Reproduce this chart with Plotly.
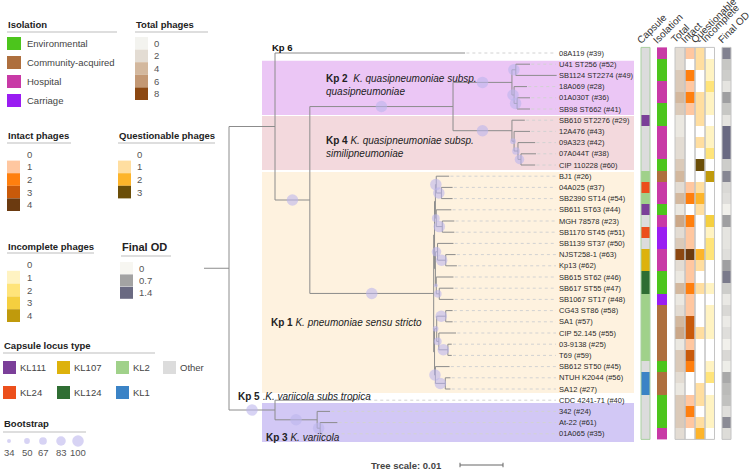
import plotly.graph_objects as go

# ---------------- data ----------------
leaves = ["08A119 (#39)", "U41 ST256 (#52)", "SB1124 ST2274 (#49)", "18A069 (#28)", "01A030T (#36)",
          "SB98 ST662 (#41)", "SB610 ST2276 (#29)", "12A476 (#43)", "09A323 (#42)", "07A044T (#38)",
          "CIP 110228 (#60)", "BJ1 (#26)", "04A025 (#37)", "SB2390 ST14 (#54)", "SB611 ST63 (#44)",
          "MGH 78578 (#23)", "SB1170 ST45 (#51)", "SB1139 ST37 (#50)", "NJST258-1 (#63)", "Kp13 (#62)",
          "SB615 ST62 (#46)", "SB617 ST55 (#47)", "SB1067 ST17 (#48)", "CG43 ST86 (#58)", "SA1 (#57)",
          "CIP 52.145 (#55)", "03-9138 (#25)", "T69 (#59)", "SB612 ST50 (#45)", "NTUH K2044 (#56)",
          "SA12 (#27)", "CDC 4241-71 (#40)", "342 (#24)", "At-22 (#61)", "01A065 (#35)"]

capsule = ["Other", "Other", "Other", "Other", "Other", "Other", "KL111", "Other", "Other", "Other", "Other",
           "KL2", "KL24", "KL2", "KL111", "Other", "KL24", "Other", "KL107", "KL107", "KL124", "KL124",
           "KL2", "KL2", "KL2", "KL2", "KL2", "KL2", "Other", "KL1", "KL1", "Other", "Other", "Other", "Other"]

isolation = ["Hospital", "Environmental", "Environmental", "Hospital", "Hospital", "Environmental",
             "Environmental", "Hospital", "Hospital", "Hospital", "Environmental",
             "Community-acquired", "Hospital", "Hospital", "Environmental", "Hospital", "Carriage",
             "Carriage", "Hospital", "Hospital", "Environmental", "Environmental",
             "Carriage", "Community-acquired", "Community-acquired", "Community-acquired",
             "Community-acquired", "Community-acquired", "Environmental", "Community-acquired",
             "Community-acquired", "Environmental", "Environmental", "Environmental", "Hospital"]

total_phages = [2, 2, 3, 3, 4, 3, 1, 1, 2, 2, 3,
                4, 2, 4, 1, 5, 2, 3, 8, 2, 1, 4,
                1, 2, 4, 5, 1, 3, 3, 2, 1, 3, 3, 3, 2]
intact_phages = [1, 0, 2, 1, 2, 1, 0, 0, 0, 0, 0,
                 0, 1, 2, 0, 2, 1, 1, 4, 1, 1, 2,
                 1, 1, 3, 3, 1, 3, 2, 0, 0, 1, 2, 1, 0]
questionable_phages = [1, 1, 0, 0, 1, 1, 1, 0, 1, 0, 3,
                       0, 1, 2, 1, 0, 0, 0, 2, 1, 0, 1,
                       0, 0, 0, 1, 0, 0, 0, 0, 1, 1, 0, 1, 2]
incomplete_phages = [0, 1, 1, 2, 1, 1, 0, 1, 1, 2, 0,
                     4, 0, 0, 0, 3, 1, 2, 2, 0, 0, 1,
                     0, 1, 1, 1, 0, 0, 1, 2, 0, 1, 1, 1, 0]
final_od = [1.1, 0.4, 0.35, 0.15, 0.75, 0.4, 0.15, 1.4, 1.4, 1.4, 0.35,
            1.05, 0.25, 0.2, 0.05, 0.75, 0.15, 0.15, 0.2, 0.75, 1.2, 0.35,
            0.12, 0.25, 0.1, 0.2, 0.05, 0.25, 0.08, 0.65, 0.5, 0.45, 0.2, 1.0, 0.22]

isolation_types = ["Environmental", "Community-acquired", "Hospital", "Carriage"]
isolation_colors = ["#4CC51C", "#AE6F3E", "#C83AA6", "#9A1DF2"]
capsule_types = ["KL111", "KL107", "KL2", "Other", "KL24", "KL124", "KL1"]
capsule_colors = ["#7B3F99", "#DDB20C", "#A0D18A", "#DCDCDC", "#EC4F1C", "#2F6E33", "#3B83C6"]

total_ticks = [0, 2, 4, 6, 8]
intact_ticks = [0, 1, 2, 3, 4]
questionable_ticks = [0, 1, 2, 3]
incomplete_ticks = [0, 1, 2, 3, 4]
od_ticks = [0, 0.7, 1.4]
bootstrap_ticks = [34, 50, 67, 83, 100]


# tree: internal node = N(branch length, bootstrap, children...), leaf = L(label, branch length)
def N(bl, bs, *children):
    return {"bl": bl, "bs": bs, "ch": list(children)}


def L(name, bl):
    return {"bl": bl, "leaf": name}


tree = N(0, None,
         N(0.0107, None,
           L("08A119 (#39)", 0.0442),
           N(0.0081, 100,
             N(0.0333, 100,
               N(0.0137, 100,
                 N(0.0009, 100, L("U41 ST256 (#52)", 0.0033), L("SB1124 ST2274 (#49)", 0.0095)),
                 N(0.0005, 100, L("18A069 (#28)", 0.0030),
                   N(0.0007, 100, L("01A030T (#36)", 0.0030), L("SB98 ST662 (#41)", 0.0030)))),
               N(0.0137, 100,
                 L("SB610 ST2276 (#29)", 0.0030),
                 N(0.0005, 50, L("12A476 (#43)", 0.0037),
                   N(0.0009, 67, L("09A323 (#42)", 0.0040),
                     N(0.0007, 83, L("07A044T (#38)", 0.0035), L("CIP 110228 (#60)", 0.0033)))))),
             N(0.0288, 100,
               N(0.0002, None,
                 N(0.0002, None,
                   N(0.0002, 100, L("BJ1 (#26)", 0.0030),
                     N(0.0012, 100, L("04A025 (#37)", 0.0026), L("SB2390 ST14 (#54)", 0.0026))),
                   N(0.0002, 67, L("SB611 ST63 (#44)", 0.0035),
                     N(0.0014, 100, L("MGH 78578 (#23)", 0.0028), L("SB1170 ST45 (#51)", 0.0028)))),
                 N(0.0002, None,
                   N(0.0005, 83, L("SB1139 ST37 (#50)", 0.0037),
                     N(0.0019, 100, L("NJST258-1 (#63)", 0.0023), L("Kp13 (#62)", 0.0026))),
                   N(0.0002, 34, L("SB615 ST62 (#46)", 0.0040),
                     N(0.0007, 67, L("SB617 ST55 (#47)", 0.0033), L("SB1067 ST17 (#48)", 0.0033))))),
               N(0.0002, None,
                 N(0.0005, 50,
                   N(0.0021, 100, L("CG43 ST86 (#58)", 0.0016), L("SA1 (#57)", 0.0016)),
                   N(0.0005, 67, L("CIP 52.145 (#55)", 0.0040),
                     N(0.0021, 100, L("03-9138 (#25)", 0.0009), L("T69 (#59)", 0.0009)))),
                 N(0.0002, 100, L("SB612 ST50 (#45)", 0.0033),
                   N(0.0023, 100, L("NTUH K2044 (#56)", 0.0012), L("SA12 (#27)", 0.0012))))))),
         N(0.0107, 100,
           L("CDC 4241-71 (#40)", 0.0186),
           N(0.0098, 100, L("342 (#24)", 0.0030),
             N(0.0007, 100, L("At-22 (#61)", 0.0040), L("01A065 (#35)", 0.0005)))))

# ---------------- geometry of the page ----------------
W, H = 755, 474
ROOT_PX = 229          # pixel of tree root
PX_PER_UNIT = 4300     # tree scale: 0.01 -> 43 px
ROW0_PX, ROW_PX = 53, 11.2
LABEL_PX = 558
FONT = "Liberation Sans, Arial, Helvetica, sans-serif"


def layout_tree(node, x0):
    node["x"] = x0 + node["bl"]
    if "leaf" in node:
        node["y"] = leaves.index(node["leaf"])
    else:
        for c in node["ch"]:
            layout_tree(c, node["x"])
        node["y"] = (node["ch"][0]["y"] + node["ch"][-1]["y"]) / 2


layout_tree(tree, 0.0)

lx, ly = [], []
bx, by, bs_sizes = [], [], []
gx, gy = [], []
label_x_units = (LABEL_PX - 2 - ROOT_PX) / PX_PER_UNIT


def walk(node, parent):
    if parent is not None:
        lx.extend([parent["x"], node["x"], None]); ly.extend([node["y"], node["y"], None])
        if node.get("bs"):
            bx.append((parent["x"] + node["x"]) / 2); by.append(node["y"]); bs_sizes.append(node["bs"])
    if "leaf" in node:
        if node["x"] < label_x_units - 0.0003:
            gx.extend([node["x"] + 0.0003, label_x_units, None]); gy.extend([node["y"], node["y"], None])
    else:
        lx.extend([node["x"], node["x"], None]); ly.extend([node["ch"][0]["y"], node["ch"][-1]["y"], None])
        for c in node["ch"]:
            walk(c, node)


walk(tree, None)
# root stem
lx.extend([-25 / PX_PER_UNIT, 0, None]); ly.extend([tree["y"], tree["y"], None])

fig = go.Figure()

BOOT_COLOR = "#BDB6EC"
BOOT_OPACITY = 0.6

# leaf guide lines
fig.add_trace(go.Scatter(x=gx, y=gy, mode="lines", line=dict(color="#D2D2D2", width=1, dash="3px,3px"),
                         hoverinfo="skip", showlegend=False))
# branches
fig.add_trace(go.Scatter(x=lx, y=ly, mode="lines", line=dict(color="#8C8C8C", width=1),
                         hoverinfo="skip", showlegend=False))
# bootstrap circles
fig.add_trace(go.Scatter(x=bx, y=by, mode="markers",
                         marker=dict(size=[0.115 * b for b in bs_sizes], color=BOOT_COLOR, opacity=BOOT_OPACITY,
                                     line=dict(width=0)),
                         hoverinfo="skip", showlegend=False))

# tree scale bar (0.01 units)
sb_x0 = (460 - ROOT_PX) / PX_PER_UNIT
sb_y = (465 - ROW0_PX) / ROW_PX
fig.add_trace(go.Scatter(x=[sb_x0, sb_x0 + 0.01, None, sb_x0, sb_x0, None, sb_x0 + 0.01, sb_x0 + 0.01],
                         y=[sb_y, sb_y, None, sb_y - 0.2, sb_y + 0.2, None, sb_y - 0.2, sb_y + 0.2],
                         mode="lines", line=dict(color="#666666", width=1), hoverinfo="skip", showlegend=False))

# ---------------- heatmap columns ----------------
rows = list(range(len(leaves)))


def cat_scale(colors):
    n = len(colors)
    cs = []
    for i, c in enumerate(colors):
        cs += [[i / n, c], [(i + 1) / n, c]]
    return cs


cols = {
    "Capsule": (641, 650), "Isolation": (657, 667), "Total": (675, 685), "Intact": (685, 695),
    "Questionable": (695, 705), "Incomplete": (705, 714.5), "Final OD": (722, 731),
}


def add_col(name, z, colorscale, zmin, zmax):
    x0, x1 = cols[name]
    fig.add_trace(go.Heatmap(z=[[v] for v in z], x=[x0, x1], y=rows, colorscale=colorscale,
                             zmin=zmin, zmax=zmax, showscale=False, hoverinfo="skip",
                             xaxis="x2", yaxis="y"))


add_col("Capsule", [capsule_types.index(c) for c in capsule], cat_scale(capsule_colors),
        -0.5, len(capsule_types) - 0.5)
add_col("Isolation", [isolation_types.index(c) for c in isolation], cat_scale(isolation_colors),
        -0.5, len(isolation_types) - 0.5)
add_col("Total", total_phages,
        [[0, "#F3F3EF"], [0.25, "#E3DCD3"], [0.5, "#D3B89E"], [0.75, "#C39874"], [1, "#8C4812"]], 0, 8)
add_col("Intact", intact_phages,
        [[0, "#FFFFFF"], [0.25, "#FFC7A0"], [0.5, "#FF7F0E"], [0.75, "#C95A0A"], [1, "#6B3A10"]], 0, 4)
add_col("Questionable", questionable_phages,
        [[0, "#FFFFFF"], [1 / 3, "#FFDEA0"], [2 / 3, "#FDB42A"], [1, "#6B4E08"]], 0, 3)
add_col("Incomplete", incomplete_phages,
        [[0, "#FFFFFF"], [0.25, "#FFF3C2"], [0.5, "#FFE47A"], [0.75, "#F5CF3F"], [1, "#C09A0C"]], 0, 4)
add_col("Final OD", final_od, [[0, "#F7F6F1"], [0.5, "#A3A3A3"], [1, "#6A6A82"]], 0, 1.4)

shapes = []
annotations = []

# clade background bands (pixel x, row y)
bands = [(0.69, 5.54, "#EBC6F5"), (5.62, 10.45, "#F3D9DD"), (10.63, 30.36, "#FEF2DF"), (31.25, 34.73, "#D2C8F5")]
for y0, y1, c in bands:
    shapes.append(dict(type="rect", xref="x2", yref="y", x0=262, x1=634, y0=y0, y1=y1,
                       fillcolor=c, line=dict(width=0), layer="below"))

# column outlines
for name, (x0, x1) in cols.items():
    if name == "Isolation":
        continue
    shapes.append(dict(type="rect", xref="x2", yref="y", x0=x0, x1=x1, y0=-0.5, y1=len(leaves) - 0.5,
                       line=dict(color="#A9CFA0" if name == "Capsule" else "#C4C4C4", width=1),
                       fillcolor="rgba(0,0,0,0)", layer="above"))


def txt(x, y, s, size=9.5, color="#333333", xanchor="left", yanchor="middle", xref="x2", yref="y2",
        angle=0, align="left"):
    annotations.append(dict(x=x, y=y, text=s, xref=xref, yref=yref, showarrow=False, xanchor=xanchor,
                            yanchor=yanchor, textangle=angle, align=align,
                            font=dict(family=FONT, size=size, color=color)))


# leaf labels
for i, name in enumerate(leaves):
    txt(LABEL_PX - 1, i, name, size=7.5, color="#2A2A2A", yref="y")

# column headers
for name, (x0, x1) in cols.items():
    txt(x0 - 9, 48, name, size=10, color="#333333", yanchor="bottom", angle=-45)

# clade labels
txt(270, 47, "<b>Kp 6</b>", size=9.5, color="#111111")
txt(324, 85, "<b>Kp 2</b>&nbsp; <i>K. quasipneumoniae subsp.</i><br><i>quasipneumoniae</i>", size=10,
    color="#222222")
txt(324, 146.5, "<b>Kp 4</b> <i>K. quasipneumoniae subsp.</i><br><i>similipneumoniae</i>", size=10,
    color="#222222")
txt(269, 322, "<b>Kp 1</b> <i>K. pneumoniae sensu stricto</i>", size=10, color="#222222")
txt(236, 396, "<b>Kp 5</b> .<i>K. variicola subs tropica</i>", size=10, color="#222222")
txt(264, 437, "<b>Kp 3</b> <i>K. variicola</i>", size=10, color="#222222")
txt(369, 465, "<b>Tree scale: 0.01</b>", size=9.5, color="#444444")


# ---------------- legends ----------------
def legend_title(x, y, s, x_end, size=9.5, uy=None):
    txt(x - 1, y, "<b>" + s + "</b>", size=size, color="#222222")
    shapes.append(dict(type="line", xref="x2", yref="y2", x0=x, x1=x_end, y0=uy, y1=uy,
                       line=dict(color="#BDBDBD", width=1)))


def swatch(x0, y0, x1, y1, c):
    shapes.append(dict(type="rect", xref="x2", yref="y2", x0=x0, x1=x1, y0=y0, y1=y1, fillcolor=c,
                       line=dict(width=0)))


# Isolation
legend_title(7, 24, "Isolation", 117, uy=32)
for k, (t, c) in enumerate(zip(isolation_types, isolation_colors)):
    y0 = 37 + 19 * k
    swatch(7, y0, 21, y0 + 13, c)
    txt(25, y0 + 6.5, t, size=9.5, color="#444444")

# Total phages
legend_title(135, 24, "Total phages", 208, uy=32)
total_cols = ["#F3F3EF", "#E3DCD3", "#D3B89E", "#C39874", "#8C4812"]
for k, (t, c) in enumerate(zip(total_ticks, total_cols)):
    y0 = 37 + 12.6 * k
    swatch(135, y0, 148, y0 + 12.6, c)
    txt(152, y0 + 6.3, str(t), size=9.5, color="#555555")

# Intact phages
legend_title(7, 135, "Intact phages", 71, uy=143)
intact_cols = ["#FFFFFF", "#FFC7A0", "#FF7F0E", "#C95A0A", "#6B3A10"]
for k, (t, c) in enumerate(zip(intact_ticks, intact_cols)):
    y0 = 148 + 12.6 * k
    if k > 0:
        swatch(7, y0, 20, y0 + 12.6, c)
    txt(25, y0 + 6.3, str(t), size=9.5, color="#555555")

# Questionable phages
legend_title(118, 135, "Questionable phages", 215, uy=143)
quest_cols = ["#FFFFFF", "#FFDEA0", "#FDB42A", "#6B4E08"]
for k, (t, c) in enumerate(zip(questionable_ticks, quest_cols)):
    y0 = 148 + 12.6 * k
    if k > 0:
        swatch(118, y0, 131, y0 + 12.6, c)
    txt(135, y0 + 6.3, str(t), size=9.5, color="#555555")

# Incomplete phages
legend_title(7, 246, "Incomplete phages", 94, uy=253)
incomp_cols = ["#FFFFFF", "#FFF3C2", "#FFE47A", "#F5CF3F", "#C09A0C"]
for k, (t, c) in enumerate(zip(incomplete_ticks, incomp_cols)):
    y0 = 258 + 12.8 * k
    if k > 0:
        swatch(7, y0, 20, y0 + 12.8, c)
    txt(25, y0 + 6.4, str(t), size=9.5, color="#555555")

# Final OD
legend_title(121, 247, "Final OD", 171, size=11, uy=256)
od_cols = ["#F7F6F1", "#A3A3A3", "#6A6A82"]
for k, (t, c) in enumerate(zip(od_ticks, od_cols)):
    y0 = 262 + 12.4 * k
    swatch(120, y0, 133, y0 + 12, c)
    txt(137, y0 + 6, str(t), size=9.5, color="#555555")

# Capsule locus type
legend_title(3, 345, "Capsule locus type", 155, uy=353)
cap_pos = [(3, 361), (57, 361), (116, 361), (163, 361), (3, 386), (57, 386), (116, 386)]
for (x0, y0), t, c in zip(cap_pos, capsule_types, capsule_colors):
    swatch(x0, y0, x0 + 13, y0 + 13, c)
    txt(x0 + 15, y0 + 6.5, t, size=9.5, color="#444444")

# Bootstrap
legend_title(3, 423, "Bootstrap", 86, uy=432)
bx_leg = [9, 27, 43, 61, 78]
fig.add_trace(go.Scatter(x=bx_leg, y=[441] * len(bx_leg), mode="markers", xaxis="x2", yaxis="y2",
                         marker=dict(size=[0.115 * b for b in bootstrap_ticks], color=BOOT_COLOR,
                                     opacity=BOOT_OPACITY, line=dict(width=0)),
                         hoverinfo="skip", showlegend=False))
for x, t in zip(bx_leg, bootstrap_ticks):
    txt(x, 452, str(t), size=9.5, color="#555555", xanchor="center")

fig.update_layout(
    width=W, height=H, autosize=False,
    margin=dict(l=0, r=0, t=0, b=0),
    paper_bgcolor="white", plot_bgcolor="white",
    showlegend=False,
    xaxis=dict(domain=[0, 1], range=[-ROOT_PX / PX_PER_UNIT, (W - ROOT_PX) / PX_PER_UNIT], visible=False,
               fixedrange=True),
    yaxis=dict(domain=[0, 1], range=[(H - ROW0_PX) / ROW_PX, -ROW0_PX / ROW_PX], visible=False,
               fixedrange=True),
    xaxis2=dict(overlaying="x", range=[0, W], visible=False, anchor="y", fixedrange=True),
    yaxis2=dict(overlaying="y", range=[H, 0], visible=False, anchor="x", fixedrange=True),
    shapes=shapes,
    annotations=annotations,
)

fig.write_html("out.html", config={"displayModeBar": False},
               post_script="document.body.style.margin='0';document.body.style.overflow='hidden';")
